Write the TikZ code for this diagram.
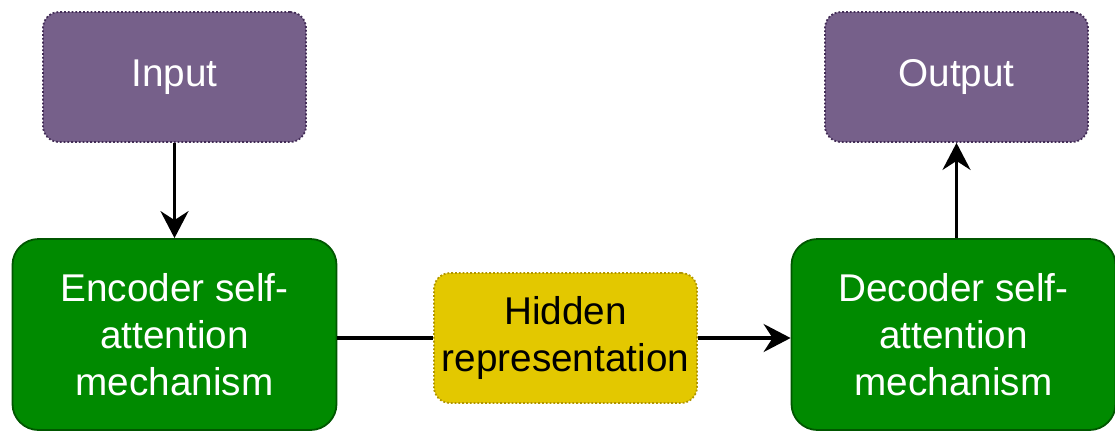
\documentclass[tikz,border=0pt]{standalone}
\usepackage{fontspec}
\setmainfont{Liberation Sans}
\usetikzlibrary{arrows.meta}
\definecolor{purpfill}{HTML}{76608A}
\definecolor{purpline}{HTML}{432D57}
\definecolor{grnfill}{HTML}{008A00}
\definecolor{grnline}{HTML}{005700}
\definecolor{yelfill}{HTML}{E3C800}
\definecolor{yelline}{HTML}{B09500}
\tikzset{
  box/.style={rectangle, align=center, inner sep=0pt,
    font=\fontsize{38.7}{47}\selectfont},
  iobox/.style={box, fill=purpfill, draw=purpline, dotted, line width=1.8pt,
    rounded corners=16pt, text=white, minimum width=263pt, minimum height=130pt},
  attbox/.style={box, fill=grnfill, draw=grnline, line width=1.8pt,
    rounded corners=26pt, text=white, minimum width=324pt, minimum height=191pt},
  hidbox/.style={box, fill=yelfill, draw=yelline, dotted, line width=1.8pt,
    rounded corners=16pt, text=black, minimum width=263pt, minimum height=130pt},
  conn/.style={line width=3.4pt, black},
  arr/.style={conn, -{Stealth[length=27pt,width=28pt,inset=9pt]}}
}
\begin{document}
\begin{tikzpicture}[x=1pt,y=-1pt]
\useasboundingbox (0,0) rectangle (1115,432);
\node[iobox] (in) at (174.5,77) {Input};
\node[iobox] (out) at (956.5,77) {Output};
\node[attbox] (enc) at (174.5,334.5) {Encoder self-\\attention\\mechanism};
\node[attbox] (dec) at (953.5,334.5) {Decoder self-\\attention\\mechanism};
\node[hidbox] (hid) at (565.5,338) {Hidden\\representation};
\draw[arr] (in.south) -- (in.south |- enc.north);
\draw[conn] (hid.west -| enc.east) -- (hid.west);
\draw[arr] (hid.east) -- (hid.east -| dec.west);
\draw[arr] (out.south |- dec.north) -- (out.south);
\end{tikzpicture}
\end{document}
